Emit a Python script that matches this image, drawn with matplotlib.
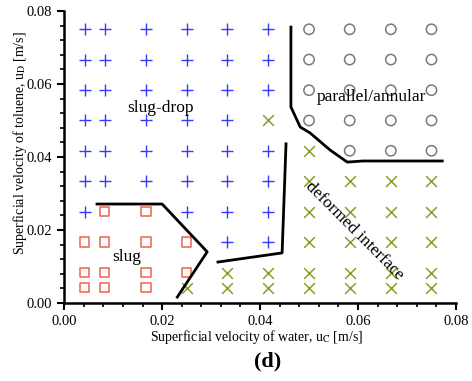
import numpy as np
import matplotlib.pyplot as plt
from matplotlib.ticker import MultipleLocator

plt.rcParams['font.family'] = ['Liberation Serif', 'DejaVu Serif']
plt.rcParams['mathtext.fontset'] = 'stix'

# flow rates used in the experiments (m/s)
u_vals = [0.0042, 0.0083, 0.0167, 0.025, 0.0333, 0.0417, 0.05, 0.0583, 0.0667, 0.075]

# flow pattern map, rows from high to low toluene velocity
# P = slug-drop, S = slug, X = deformed interface, O = parallel/annular
pattern_rows = [
    "PPPPPPOOOO",
    "PPPPPPOOOO",
    "PPPPPPOOOO",
    "PPPPPXOOOO",
    "PPPPPPXOOO",
    "PPPPPPXXXX",
    "PSSPPPXXXX",
    "SSSSPPXXXX",
    "SSSSXXXXXX",
    "SSSXXXXXXX",
]
row_ud = u_vals[::-1]

# regime boundaries
b_slug_x = [0.0067, 0.020, 0.0292, 0.0231]
b_slug_y = [0.0271, 0.0271, 0.0140, 0.0016]
b_mid_x = [0.0314, 0.0445, 0.0453]
b_mid_y = [0.0112, 0.0137, 0.0436]
b_par_x = [0.0463, 0.0463, 0.0482, 0.0502, 0.0543, 0.0578, 0.061, 0.0772]
b_par_y = [0.0756, 0.0537, 0.0482, 0.0466, 0.0419, 0.0386, 0.0389, 0.0389]

styles = {
    'P': dict(marker='+', color='#3a3aff', s=70, linewidths=1.0),
    'S': dict(marker='s', facecolors='none', edgecolors='#f0604a', s=45, linewidths=1.1),
    'X': dict(marker='x', color='#8a9e2a', s=60, linewidths=1.1),
    'O': dict(marker='o', facecolors='none', edgecolors='#7a7a7a', s=55, linewidths=1.1),
}

fig = plt.figure(figsize=(4.72, 3.81), dpi=100)
ax = fig.add_axes([0.136, 0.205, 0.83, 0.766])

for key, st in styles.items():
    xs, ys = [], []
    for r, row in enumerate(pattern_rows):
        for c, ch in enumerate(row):
            if ch == key:
                xs.append(u_vals[c])
                ys.append(row_ud[r])
    ax.scatter(xs, ys, zorder=3, **st)

for bx, by in [(b_slug_x, b_slug_y), (b_mid_x, b_mid_y), (b_par_x, b_par_y)]:
    ax.plot(bx, by, color='black', lw=2.0, zorder=4)

ax.text(0.0196, 0.0534, 'slug-drop', fontsize=12.5, ha='center', va='center')
ax.text(0.0627, 0.0564, 'parallel/annular', fontsize=12.5, ha='center', va='center')
ax.text(0.0127, 0.0126, 'slug', fontsize=12.5, ha='center', va='center')
ax.text(0.0592, 0.0197, 'deformed interface', fontsize=12.5, ha='center', va='center',
        rotation=-45, rotation_mode='anchor')

ax.set_xlim(0, 0.08)
ax.set_ylim(0, 0.08)
ax.xaxis.set_major_locator(MultipleLocator(0.02))
ax.xaxis.set_minor_locator(MultipleLocator(0.004))
ax.yaxis.set_major_locator(MultipleLocator(0.02))
ax.yaxis.set_minor_locator(MultipleLocator(0.004))
ax.xaxis.set_major_formatter(lambda v, p: f'{v:.2f}')
ax.yaxis.set_major_formatter(lambda v, p: f'{v:.2f}')
for side in ['top', 'right']:
    ax.spines[side].set_visible(False)
for side in ['left', 'bottom']:
    ax.spines[side].set_linewidth(1.8)
ax.tick_params(which='major', direction='out', length=5, width=1.5, labelsize=10.5)
ax.tick_params(which='minor', direction='out', length=3, width=1.2)

ax.set_xlabel('Superficial velocity of water, u$_\\mathrm{C}$ [m/s]', fontsize=10, labelpad=0)
ax.set_ylabel('Superficial velocity of toluene, u$_\\mathrm{D}$ [m/s]', fontsize=10)
ax.xaxis.set_label_coords(0.49, -0.085)
ax.yaxis.set_label_coords(-0.09, 0.548)
fig.text(0.566, 0.05, '(d)', fontsize=16, fontweight='bold', ha='center', va='center')

fig.savefig('out.png', dpi=100)
